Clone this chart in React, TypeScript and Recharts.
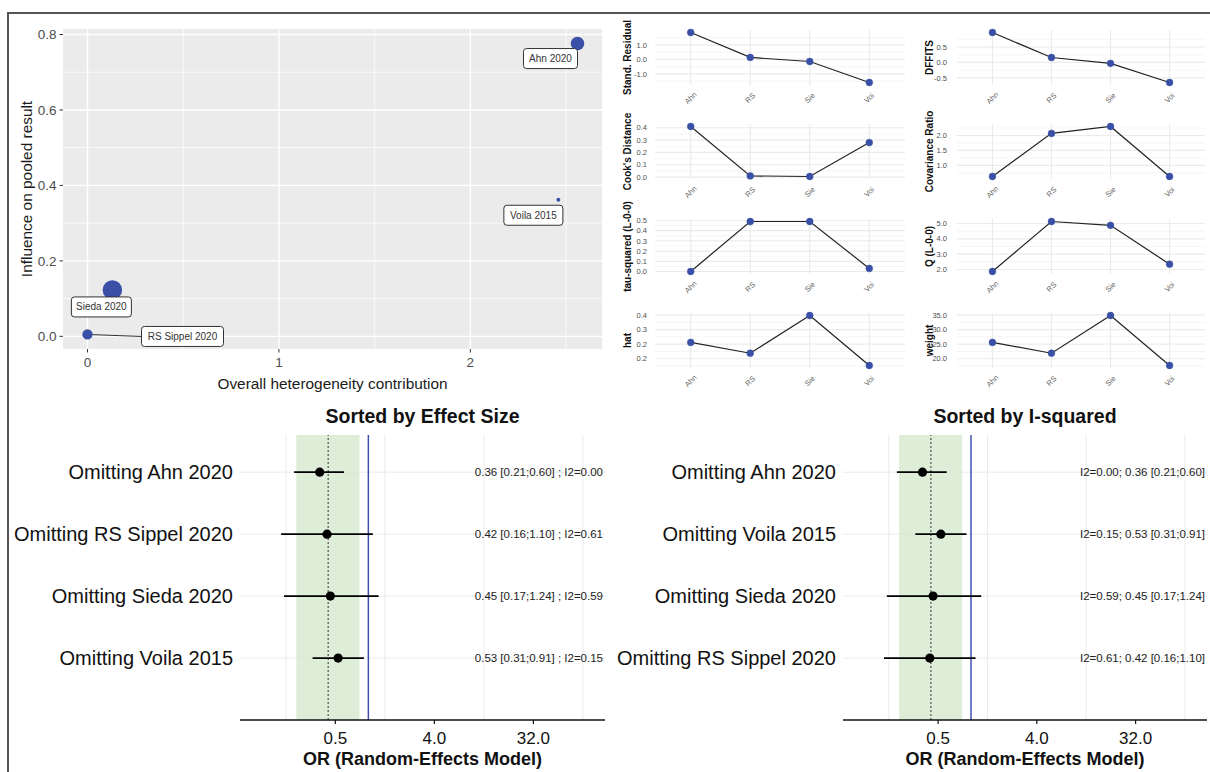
import React from "react";
import {
  ScatterChart,
  Scatter,
  LineChart,
  Line,
  XAxis,
  YAxis,
  ZAxis,
  CartesianGrid,
  ReferenceLine,
  ReferenceArea,
  ErrorBar,
  LabelList,
} from "recharts";

const FONT = "'Liberation Sans', Arial, Helvetica, sans-serif";
const BLUE = "#3A50A6";

// ---- Baujat plot ----
const baujatStudies = ["Ahn 2020", "Voila 2015", "Sieda 2020", "RS Sippel 2020"];
const heterogeneityContribution = [2.56, 2.46, 0.13, 0.0];
const influenceOnPooled = [0.776, 0.362, 0.123, 0.005];
const baujatWeight = [25.6, 17.7, 34.8, 21.9];
const baujatXTicks = [0, 1, 2];
const baujatYTicks = [0, 0.2, 0.4, 0.6, 0.8];

// ---- influence diagnostics ----
const diagStudies = ["Ahn", "RS", "Sie", "Voi"];
const standResidual = [1.86, 0.14, -0.14, -1.59];
const dffits = [0.97, 0.16, -0.03, -0.65];
const cooksDistance = [0.41, 0.01, 0.005, 0.28];
const covarianceRatio = [0.63, 2.07, 2.3, 0.63];
const tauSquaredL00 = [0.0, 0.49, 0.49, 0.03];
const qL00 = [1.87, 5.13, 4.88, 2.35];
const hatValues = [0.256, 0.219, 0.348, 0.177];
const weightValues = [25.6, 21.9, 34.8, 17.7];

const hatTicks = [0.2, 0.25, 0.3, 0.35];
const hatTickLabels = ["0.2", "0.2", "0.3", "0.4"];

// ---- leave-one-out ----
const omitted = ["Ahn 2020", "RS Sippel 2020", "Sieda 2020", "Voila 2015"];
const orEstimate = [0.36, 0.42, 0.45, 0.53];
const ciLower = [0.21, 0.16, 0.17, 0.31];
const ciUpper = [0.6, 1.1, 1.24, 0.91];
const i2 = [0.0, 0.61, 0.59, 0.15];
const orderByEffect = [0, 1, 2, 3];
const orderByI2 = [0, 3, 2, 1];
const pooledOR = 0.43;
const pooledLower = 0.22;
const pooledUpper = 0.83;
const forestTicks = [0.5, 4, 32];
const forestMinor = [0.177, 1.414, 11.31, 90.5];

// label box placement (ggrepel-like) per study
const labelBoxes: Record<string, { dx: number; dy: number; w: number; segment?: boolean }> = {
  "Ahn 2020": { dx: -27, dy: 15, w: 54 },
  "Voila 2015": { dx: -25, dy: 15.5, w: 59 },
  "Sieda 2020": { dx: -11, dy: 17, w: 60 },
  "RS Sippel 2020": { dx: 95, dy: 2, w: 82, segment: true },
};

const expand = (vals: number[], f = 0.05): [number, number] => {
  const lo = Math.min(...vals);
  const hi = Math.max(...vals);
  const pad = (hi - lo) * f;
  return [lo - pad, hi + pad];
};

const minorBetween = (ticks: number[], domain: [number, number]) => {
  const step = ticks[1] - ticks[0];
  const out: number[] = [];
  for (let v = ticks[0] - step / 2; v <= domain[1] + 1e-9; v += step) {
    if (v >= domain[0]) out.push(+v.toFixed(6));
  }
  return out;
};

function YTitle(props: any) {
  const { viewBox, value, cx, size, bold, color } = props;
  if (!viewBox) return null;
  const x = viewBox.x + cx;
  const y = viewBox.y + viewBox.height / 2;
  return (
    <text
      x={x}
      y={y}
      transform={`rotate(-90 ${x} ${y})`}
      textAnchor="middle"
      dominantBaseline="central"
      fontSize={size}
      fontWeight={bold ? "bold" : "normal"}
      fill={color ?? "#1a1a1a"}
      fontFamily={FONT}
    >
      {value}
    </text>
  );
}

function BaujatPoint(props: any) {
  const { cx, cy, payload } = props;
  if (cx == null || cy == null) return null;
  const r = props.width ? props.width / 2 : Math.sqrt((props.size ?? 64) / Math.PI);
  const box = labelBoxes[payload.name];
  const bx = cx + box.dx;
  const by = cy + box.dy;
  const h = 20;
  return (
    <g>
      {box.segment && (
        <line x1={cx} y1={cy} x2={bx - box.w / 2} y2={by} stroke="#333" strokeWidth={1} />
      )}
      <circle cx={cx} cy={cy} r={r} fill={BLUE} />
      <rect
        x={bx - box.w / 2}
        y={by - h / 2}
        width={box.w}
        height={h}
        rx={3}
        fill="#fff"
        stroke="#333"
        strokeWidth={1}
      />
      <text
        x={bx}
        y={by}
        textAnchor="middle"
        dominantBaseline="central"
        fontSize={10}
        fill="#333"
        fontFamily={FONT}
      >
        {payload.name}
      </text>
    </g>
  );
}

function BaujatPlot() {
  const data = baujatStudies.map((name, i) => ({
    name,
    x: heterogeneityContribution[i],
    y: influenceOnPooled[i],
    w: baujatWeight[i],
  }));
  const xDomain = expand(heterogeneityContribution);
  const yDomain = expand(influenceOnPooled);
  return (
    <ScatterChart width={605} height={400} margin={{ top: 29, right: 3, bottom: 0, left: 0 }}>
      <CartesianGrid
        fill="#EBEBEB"
        stroke="#FFFFFF"
        strokeWidth={0.7}
        horizontalValues={minorBetween(baujatYTicks, yDomain)}
        verticalValues={minorBetween(baujatXTicks, xDomain)}
      />
      <CartesianGrid
        stroke="#FFFFFF"
        strokeWidth={1.4}
        horizontalValues={baujatYTicks}
        verticalValues={baujatXTicks}
      />
      <XAxis
        type="number"
        dataKey="x"
        domain={xDomain}
        ticks={baujatXTicks}
        height={51}
        axisLine={false}
        tickSize={3.5}
        tickMargin={5}
        tickLine={{ stroke: "#333" }}
        tick={{ fontSize: 13.5, fill: "#4D4D4D", fontFamily: FONT }}
        label={{
          value: "Overall heterogeneity contribution",
          position: "insideBottom",
          offset: 11,
          style: { fontSize: 15.4, fill: "#1a1a1a", fontFamily: FONT },
        }}
      />
      <YAxis
        type="number"
        dataKey="y"
        domain={yDomain}
        ticks={baujatYTicks}
        width={63}
        axisLine={false}
        tickSize={3.5}
        tickMargin={3}
        tickLine={{ stroke: "#333" }}
        tickFormatter={(v: number) => v.toFixed(1)}
        tick={{ fontSize: 13.5, fill: "#4D4D4D", fontFamily: FONT }}
        label={<YTitle value="Influence on pooled result" cx={26} size={15.4} />}
      />
      <ZAxis type="number" dataKey="w" domain={["dataMin", "dataMax"]} range={[12, 300]} />
      <Scatter data={data} isAnimationActive={false} shape={<BaujatPoint />} />
    </ScatterChart>
  );
}

function StudyTick(props: any) {
  const { x, y, payload } = props;
  const label = diagStudies[Math.round(payload.value) - 1] ?? "";
  return (
    <text
      transform={`translate(${x},${y + 11}) rotate(-45)`}
      textAnchor="middle"
      dominantBaseline="central"
      fontSize={7.5}
      fill="#666"
      fontFamily={FONT}
    >
      {label}
    </text>
  );
}

interface DiagConfig {
  title: string;
  values: number[];
  ticks: number[];
  labels?: string[];
}

const diagPanels: DiagConfig[] = [
  { title: "Stand. Residual", values: standResidual, ticks: [-1, 0, 1] },
  { title: "DFFITS", values: dffits, ticks: [-0.5, 0, 0.5] },
  { title: "Cook's Distance", values: cooksDistance, ticks: [0, 0.1, 0.2, 0.3, 0.4] },
  { title: "Covariance Ratio", values: covarianceRatio, ticks: [1, 1.5, 2] },
  { title: "tau-squared (L-0-0)", values: tauSquaredL00, ticks: [0, 0.1, 0.2, 0.3, 0.4, 0.5] },
  { title: "Q (L-0-0)", values: qL00, ticks: [2, 3, 4, 5] },
  { title: "hat", values: hatValues, ticks: hatTicks, labels: hatTickLabels },
  { title: "weight", values: weightValues, ticks: [20, 25, 30, 35] },
];

function DiagPanel({ cfg, col, row }: { cfg: DiagConfig; col: number; row: number }) {
  const data = diagStudies.map((s, i) => ({ idx: i + 1, study: s, v: cfg.values[i] }));
  const domain = expand(cfg.values);
  const left = col === 0 ? 600 : 900;
  const axisWidth = col === 0 ? 55 : 57;
  const top = 25.5 + row * 94.6;
  return (
    <div style={{ position: "absolute", left, top, width: 310, height: 85 }}>
      <LineChart width={310} height={85} data={data} margin={{ top: 4, right: 5, bottom: 0, left: 0 }}>
        <CartesianGrid
          stroke="#F0F0F0"
          strokeWidth={0.7}
          vertical={false}
          horizontalValues={minorBetween(cfg.ticks, domain)}
        />
        <CartesianGrid
          stroke="#EBEBEB"
          strokeWidth={1.2}
          horizontalValues={cfg.ticks}
          verticalValues={[1, 2, 3, 4]}
        />
        <XAxis
          type="number"
          dataKey="idx"
          domain={[0.4, 4.6]}
          ticks={[1, 2, 3, 4]}
          height={26}
          axisLine={false}
          tickLine={false}
          tickSize={0}
          tick={<StudyTick />}
        />
        <YAxis
          type="number"
          domain={domain}
          ticks={cfg.ticks}
          width={axisWidth}
          axisLine={false}
          tickLine={false}
          tickSize={0}
          tickMargin={col === 0 ? 8 : 10}
          interval={0}
          tickFormatter={(v: number) =>
            cfg.labels ? cfg.labels[cfg.ticks.indexOf(v)] ?? v.toFixed(1) : v.toFixed(1)
          }
          tick={{ fontSize: 7.5, fill: "#4D4D4D", fontFamily: FONT }}
          label={
            <YTitle value={cfg.title} cx={col === 0 ? 27 : 29} size={10} bold color="#111" />
          }
        />
        <Line
          dataKey="v"
          stroke="#222"
          strokeWidth={1.2}
          dot={{ r: 3.4, fill: BLUE, stroke: BLUE, strokeWidth: 0.5 }}
          isAnimationActive={false}
        />
      </LineChart>
    </div>
  );
}

function ForestPanel({
  order,
  left,
  width,
  axisWidth,
  rightMargin,
  title,
  summary,
}: {
  order: number[];
  left: number;
  width: number;
  axisWidth: number;
  rightMargin: number;
  title: string;
  summary: (k: number) => string;
}) {
  const n = order.length;
  const rows = order.map((k, i) => ({
    row: n - i,
    or: orEstimate[k],
    err: [orEstimate[k] - ciLower[k], ciUpper[k] - orEstimate[k]],
    label: "Omitting " + omitted[k],
    text: summary(k),
  }));
  const labelOf = (v: number) => rows.find((r) => r.row === v)?.label ?? "";
  const plotW = width - axisWidth - rightMargin;
  const plotRight = width - rightMargin;
  return (
    <div style={{ position: "absolute", left, top: 400, width, height: 372 }}>
      <div
        style={{
          position: "absolute",
          left: axisWidth,
          top: 5,
          width: plotW,
          textAlign: "center",
          fontFamily: FONT,
          fontWeight: "bold",
          fontSize: 19.5,
          lineHeight: "22px",
          color: "#111",
        }}
      >
        {title}
      </div>
      <ScatterChart
        width={width}
        height={372}
        margin={{ top: 35, right: rightMargin, bottom: 0, left: 0 }}
      >
        <CartesianGrid
          stroke="#EBEBEB"
          strokeWidth={1}
          horizontalValues={[1, 2, 3, 4]}
          verticalValues={forestMinor}
        />
        <ReferenceArea
          x1={pooledLower}
          x2={pooledUpper}
          fill="#D3E7C9"
          fillOpacity={0.75}
          stroke="none"
        />
        <ReferenceLine x={pooledOR} stroke="#333" strokeWidth={1} strokeDasharray="2 2" />
        <ReferenceLine x={1} stroke="#3F4FB0" strokeWidth={1.5} />
        <XAxis
          type="number"
          dataKey="or"
          scale="log"
          domain={[0.0675, 144]}
          allowDataOverflow
          ticks={forestTicks}
          interval={0}
          height={52}
          axisLine={{ stroke: "#111", strokeWidth: 1.6 }}
          tickLine={{ stroke: "#111", strokeWidth: 1.2 }}
          tickSize={4}
          tickMargin={8}
          tickFormatter={(v: number) => v.toFixed(1)}
          tick={{ fontSize: 17, fill: "#111", fontFamily: FONT }}
          label={{
            value: "OR (Random-Effects Model)",
            position: "insideBottom",
            offset: 7,
            style: { fontSize: 18, fontWeight: "bold", fill: "#111", fontFamily: FONT },
          }}
        />
        <YAxis
          type="number"
          dataKey="row"
          domain={[0, 4.6]}
          ticks={[1, 2, 3, 4]}
          interval={0}
          width={axisWidth}
          axisLine={false}
          tickLine={false}
          tickSize={0}
          tickMargin={7}
          tickFormatter={(v: number) => labelOf(v)}
          tick={{ fontSize: 20, fill: "#111", fontFamily: FONT }}
        />
        <Scatter
          data={rows}
          dataKey="row"
          fill="#000"
          isAnimationActive={false}
          shape={(p: any) => <circle cx={p.cx} cy={p.cy} r={4.6} fill="#000" />}
        >
          <ErrorBar dataKey="err" direction="x" width={0} stroke="#000" strokeWidth={1.8} />
          <LabelList
            dataKey="text"
            content={(p: any) => {
              const vb = p.viewBox ?? p;
              const cy = (vb.y ?? 0) + (vb.height ?? 0) / 2;
              return (
                <text
                  x={plotRight - 2}
                  y={cy}
                  textAnchor="end"
                  dominantBaseline="central"
                  fontSize={11.5}
                  fill="#222"
                  fontFamily={FONT}
                >
                  {p.value}
                </text>
              );
            }}
          />
        </Scatter>
      </ScatterChart>
    </div>
  );
}

const f2 = (v: number) => v.toFixed(2);

export default function App() {
  return (
    <div
      style={{
        position: "absolute",
        left: 0,
        top: 0,
        width: 1210,
        height: 772,
        background: "#fff",
        overflow: "hidden",
        fontFamily: FONT,
      }}
    >
      <style>{".recharts-surface{overflow:visible}"}</style>
      <div style={{ position: "absolute", left: 0, top: 0 }}>
        <BaujatPlot />
      </div>
      {diagPanels.map((cfg, i) => (
        <DiagPanel key={cfg.title} cfg={cfg} col={i % 2} row={Math.floor(i / 2)} />
      ))}
      <ForestPanel
        order={orderByEffect}
        left={0}
        width={610}
        axisWidth={240}
        rightMargin={5}
        title="Sorted by Effect Size"
        summary={(k) =>
          `${f2(orEstimate[k])} [${f2(ciLower[k])};${f2(ciUpper[k])}] ; I2=${f2(i2[k])}`
        }
      />
      <ForestPanel
        order={orderByI2}
        left={610}
        width={600}
        axisWidth={233}
        rightMargin={3}
        title="Sorted by I-squared"
        summary={(k) =>
          `I2=${f2(i2[k])}; ${f2(orEstimate[k])} [${f2(ciLower[k])};${f2(ciUpper[k])}]`
        }
      />
      <div
        style={{
          position: "absolute",
          left: 7,
          top: 12,
          width: 1210,
          height: 770,
          borderTop: "2px solid #555",
          borderLeft: "2px solid #555",
          pointerEvents: "none",
        }}
      />
    </div>
  );
}
